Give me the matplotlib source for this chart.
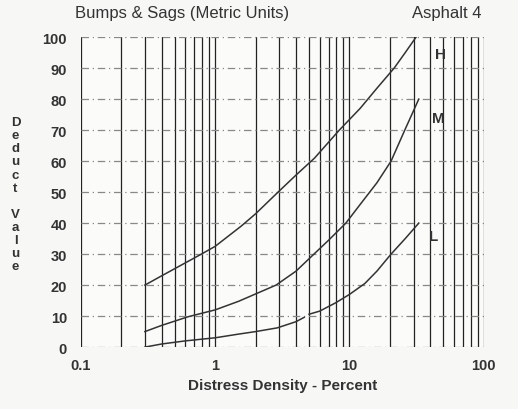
import numpy as np
import matplotlib.pyplot as plt

# deduct curves (density %, deduct value)
h_x = [0.3, 0.4, 0.51, 0.79, 1.0, 1.56, 2.0, 2.94, 4.0, 5.5, 8.4, 12.0, 16.0, 21.5, 26.0, 31.3]
h_y = [20, 23, 25.5, 30, 32.5, 39, 43, 50, 55.5, 61, 70, 77, 83.5, 90, 95, 100]

m_x = [0.3, 0.4, 0.63, 1.0, 1.5, 2.84, 4.0, 5.0, 7.0, 9.4, 12.0, 16.0, 20.4, 25.8, 32.8]
m_y = [5, 7, 9.8, 12, 14.8, 20, 24.5, 28.5, 34.5, 40, 46, 53, 60, 70, 80]

l_x = [0.3, 0.4, 0.6, 1.0, 1.5, 2.0, 2.9, 4.0, 4.6, np.nan, 5.0, 6.0, 7.9, 10.0, 13.0, 16.0, 20.4, 26.0, 32.8]
l_y = [0, 1.0, 2.0, 3, 4.2, 5.0, 6.2, 8.2, 9.6, np.nan, 10.6, 11.6, 14.3, 17, 20.5, 24.5, 30, 35, 40]

labels = ['H', 'M', 'L']
label_x = [48, 46, 42]
label_y = [94.5, 74, 36]

plt.rcParams['font.family'] = ['Liberation Sans', 'DejaVu Sans']
txt = '#333333'

fig = plt.figure(figsize=(5.18, 4.10), dpi=100, facecolor='#f7f7f5')
ax = fig.add_axes([0.156, 0.151, 0.778, 0.756])
ax.set_facecolor('#fbfbfa')
ax.set_xscale('log')
ax.set_xlim(0.1, 100)
ax.set_ylim(0, 100)

# vertical log grid lines
for dec in [0.1, 1, 10]:
    for k in range(1, 10):
        ax.axvline(dec * k, color='#222222', lw=0.9, zorder=1)
ax.axvline(100, color='#222222', lw=0.9, zorder=1)
# horizontal dash-dot lines
for yv in range(0, 101, 10):
    ax.axhline(yv, color='#888888', lw=0.9, ls=(0, (6, 3, 1, 3)), zorder=1)

for xs, ys in [(h_x, h_y), (m_x, m_y), (l_x, l_y)]:
    ax.plot(xs, ys, color='#333333', lw=1.1, zorder=3)

for lab, lx, ly in zip(labels, label_x, label_y):
    ax.text(lx, ly, lab, ha='center', va='center', fontsize=11,
            fontweight='bold', color=txt, zorder=4)

for s in ax.spines.values():
    s.set_visible(False)
ax.set_yticks(range(0, 101, 10))
ax.set_xticks([0.1, 1, 10, 100])
ax.set_xticklabels(['0.1', '1', '10', '100'])
ax.xaxis.set_minor_locator(plt.NullLocator())
ax.tick_params(length=0, labelsize=10.5, labelcolor=txt, pad=8)
ax.tick_params(axis='y', pad=10)
for t in ax.get_xticklabels() + ax.get_yticklabels():
    t.set_fontweight('bold')

ax.set_xlabel('Distress Density - Percent', fontsize=11, fontweight='bold',
              color=txt, labelpad=4)
fig.text(0.03, 0.524, '\n'.join('Deduct Value'), ha='center',
         va='center', fontsize=9.5, fontweight='bold', color=txt, linespacing=1.12)

fig.text(0.145, 0.967, 'Bumps & Sags (Metric Units)', ha='left', va='center',
         fontsize=12, color=txt)
fig.text(0.93, 0.967, 'Asphalt 4', ha='right', va='center',
         fontsize=12, color=txt)

fig.savefig('out.png', dpi=100, facecolor=fig.get_facecolor())
